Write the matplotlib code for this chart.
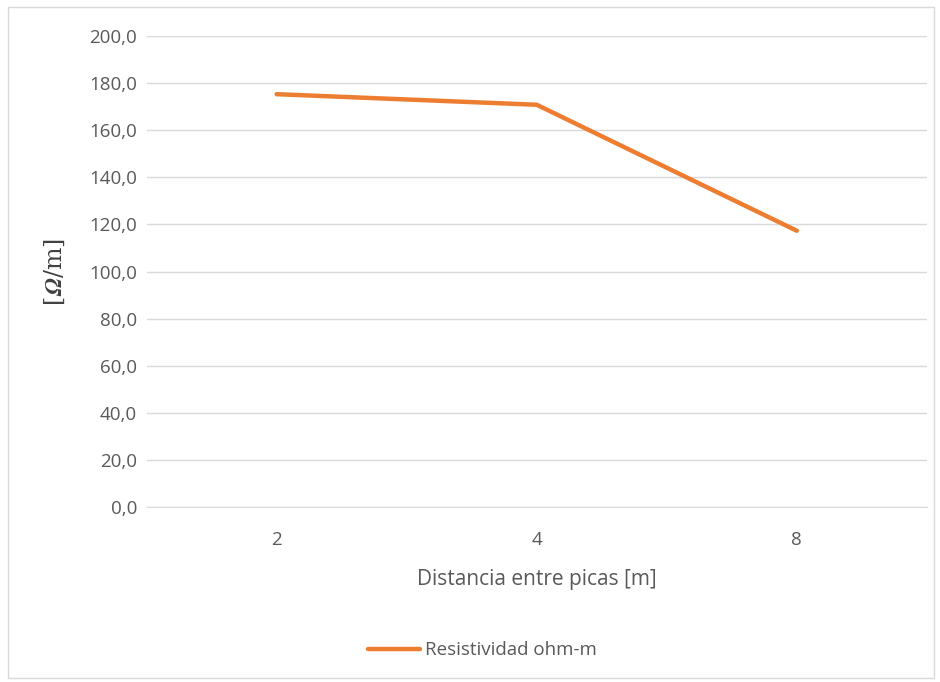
import matplotlib.pyplot as plt
import matplotlib as mpl
from matplotlib.patches import Rectangle

categories = ["2", "4", "8"]
resistividad = [175.3, 170.8, 117.3]
y_ticks = [0, 20, 40, 60, 80, 100, 120, 140, 160, 180, 200]

plt.rcParams['font.family'] = ['Open Sans', 'DejaVu Sans']
grey_txt = "#595959"

fig = plt.figure(figsize=(9.4, 6.82), dpi=100)
ax = fig.add_axes([0.156, 0.2566, 0.83, 0.6906])

x = list(range(len(categories)))
ax.plot(x, resistividad, color="#ed7d31", lw=3.2, solid_capstyle="round",
        label="Resistividad ohm-m")

ax.set_xlim(-0.5, len(categories) - 0.5)
ax.set_ylim(0, 200)
ax.set_yticks(y_ticks)
ax.set_yticklabels([f"{v:.1f}".replace(".", ",") for v in y_ticks])
ax.set_xticks(x)
ax.set_xticklabels(categories)
ax.tick_params(axis="both", length=0, labelsize=13.5, labelcolor=grey_txt)
ax.tick_params(axis="y", pad=7)
ax.tick_params(axis="x", pad=17)

ax.grid(axis="y", color="#d9d9d9", lw=1)
ax.set_axisbelow(True)
for s in ["top", "right", "left"]:
    ax.spines[s].set_visible(False)
ax.spines["bottom"].set_color("#d9d9d9")

ax.set_xlabel("Distancia entre picas [m]", fontsize=15, color=grey_txt, labelpad=15)
fig.text(0.058, 0.601, r"[$\mathbfit{\Omega}$/m]", rotation=90, fontsize=17,
         ha="center", va="center", color="#404040", family="serif",
         math_fontfamily="stix")

leg = ax.legend(loc="center", bbox_to_anchor=(0.43, -0.304), frameon=False,
                fontsize=13.5, handlelength=2.8, handletextpad=0.25)
for t in leg.get_texts():
    t.set_color(grey_txt)

# outer chart border
fig.patches.append(Rectangle((0.009, 0.006), 0.985, 0.984, transform=fig.transFigure,
                             fill=False, edgecolor="#d9d9d9", lw=1))

fig.savefig("out.png", dpi=100)
